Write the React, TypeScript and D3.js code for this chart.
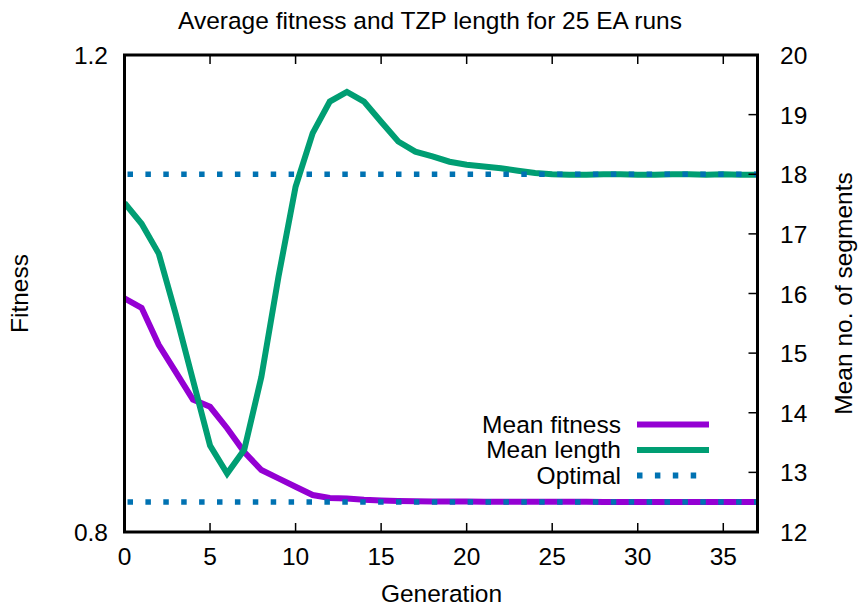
import React from 'react';
import * as d3 from 'd3';

// Generation index (x axis)
const generations = [
  0, 1, 2, 3, 4, 5, 6, 7, 8, 9, 10, 11, 12, 13, 14, 15, 16, 17, 18, 19,
  20, 21, 22, 23, 24, 25, 26, 27, 28, 29, 30, 31, 32, 33, 34, 35, 36, 37,
];

// Mean fitness per generation (left axis)
const meanFitness = [
  0.996, 0.988, 0.957, 0.934, 0.911, 0.905, 0.887, 0.867, 0.852, 0.845,
  0.838, 0.831, 0.8285, 0.828, 0.827, 0.8265, 0.826, 0.8258, 0.8256, 0.8255,
  0.8255, 0.8254, 0.8254, 0.8254, 0.8253, 0.8253, 0.8253, 0.8253, 0.8252, 0.8252,
  0.8252, 0.8252, 0.8252, 0.8252, 0.8252, 0.8252, 0.8252, 0.8252,
];

// Mean number of segments per generation (right axis)
const meanLength = [
  17.52, 17.17, 16.67, 15.65, 14.55, 13.45, 12.98, 13.38, 14.6, 16.28,
  17.79, 18.69, 19.22, 19.38, 19.22, 18.88, 18.55, 18.38, 18.3, 18.21,
  18.16, 18.13, 18.1, 18.06, 18.02, 18.0, 17.99, 17.99, 18.0, 18.0,
  17.99, 17.99, 18.0, 18.0, 17.99, 18.0, 17.99, 17.99,
];

// Optimal reference values
const optimalFitness = 0.8252;
const optimalLength = 18;

const xTicks = [0, 5, 10, 15, 20, 25, 30, 35];
const yLeftTicks = [0.8, 1.2];
const yRightTicks = [12, 13, 14, 15, 16, 17, 18, 19, 20];

const legendItems = [
  { label: 'Mean fitness', color: '#9400d3', dotted: false },
  { label: 'Mean length', color: '#009e73', dotted: false },
  { label: 'Optimal', color: '#0072b2', dotted: true },
];

const W = 859;
const H = 607;
const left = 124.5;
const right = 757.5;
const top = 55;
const bottom = 532;
const font = 'Liberation Sans, Arial, Helvetica, sans-serif';
const fs = 24.5;

export default function App() {
  const x = d3.scaleLinear().domain([0, 37]).range([left, right]);
  const yL = d3.scaleLinear().domain([0.8, 1.2]).range([bottom, top]);
  const yR = d3.scaleLinear().domain([12, 20]).range([bottom, top]);

  const fitLine = d3.line<number>()
    .x((_, i) => x(generations[i]))
    .y(d => yL(d));
  const lenLine = d3.line<number>()
    .x((_, i) => x(generations[i]))
    .y(d => yR(d));

  const dash = '5.5 12.4';

  return (
    <svg width={W} height={H} style={{ position: 'absolute', left: 0, top: 0, background: '#fff' }}
      fontFamily={font}>
      <rect width={W} height={H} fill="#fff" />

      <text x={430} y={29} textAnchor="middle" fontSize={fs}>
        Average fitness and TZP length for 25 EA runs
      </text>

      <defs>
        <clipPath id="plot">
          <rect x={left} y={top} width={right - left} height={bottom - top} />
        </clipPath>
      </defs>

      <g clipPath="url(#plot)" fill="none" strokeLinejoin="miter">
        <path d={fitLine(meanFitness) || ''} stroke="#9400d3" strokeWidth={6} />
        <path d={lenLine(meanLength) || ''} stroke="#009e73" strokeWidth={6} />
        <line x1={left + 3} x2={right} y1={yL(optimalFitness)} y2={yL(optimalFitness)}
          stroke="#0072b2" strokeWidth={5.5} strokeDasharray={dash} />
        <line x1={left + 3} x2={right} y1={yR(optimalLength)} y2={yR(optimalLength)}
          stroke="#0072b2" strokeWidth={5.5} strokeDasharray={dash} />
      </g>

      {/* x ticks, bottom and mirrored top */}
      {xTicks.map(t => (
        <g key={'x' + t}>
          <line x1={x(t)} x2={x(t)} y1={bottom} y2={bottom - 9} stroke="#000" strokeWidth={1.5} />
          <line x1={x(t)} x2={x(t)} y1={top} y2={top + 9} stroke="#000" strokeWidth={1.5} />
          <text x={x(t)} y={565} textAnchor="middle" fontSize={fs}>{t}</text>
        </g>
      ))}

      {yLeftTicks.map(t => (
        <text key={'l' + t} x={108} y={yL(t) + 9} textAnchor="end" fontSize={fs}>{t.toFixed(1)}</text>
      ))}

      {yRightTicks.map(t => (
        <g key={'r' + t}>
          <line x1={right} x2={right - 9} y1={yR(t)} y2={yR(t)} stroke="#000" strokeWidth={1.5} />
          <text x={780} y={yR(t) + 9} fontSize={fs}>{t}</text>
        </g>
      ))}

      <rect x={left} y={top} width={right - left} height={bottom - top}
        fill="none" stroke="#000" strokeWidth={3} />

      <text x={441.5} y={602} textAnchor="middle" fontSize={fs}>Generation</text>
      <text transform={`translate(28,${(top + bottom) / 2}) rotate(-90)`} textAnchor="middle" fontSize={fs}>
        Fitness
      </text>
      <text transform={`translate(852,${(top + bottom) / 2}) rotate(-90)`} textAnchor="middle" fontSize={fs}>
        Mean no. of segments
      </text>

      {legendItems.map((item, i) => {
        const ly = 424.5 + i * 25.5;
        return (
          <g key={item.label}>
            <text x={621} y={ly + 8} textAnchor="end" fontSize={fs}>{item.label}</text>
            <line x1={637} x2={item.dotted ? 700 : 709} y1={ly} y2={ly} stroke={item.color}
              strokeWidth={6} strokeDasharray={item.dotted ? dash : undefined} />
          </g>
        );
      })}
    </svg>
  );
}
